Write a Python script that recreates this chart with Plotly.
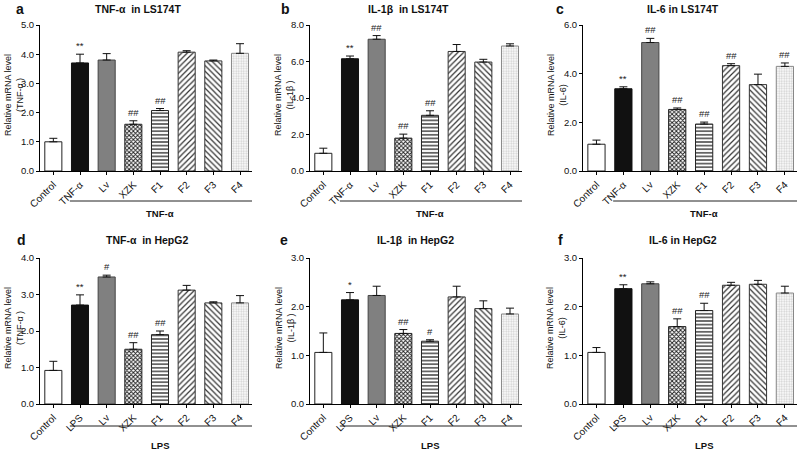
import plotly.graph_objects as go

cats_tnf = ["Control", "TNF-α", "Lv", "XZK", "F1", "F2", "F3", "F4"]
cats_lps = ["Control", "LPS", "Lv", "XZK", "F1", "F2", "F3", "F4"]

# panel values (mean) and upward error (SEM)
a_val = [1.00, 3.70, 3.80, 1.60, 2.07, 4.07, 3.77, 4.03]
a_err = [0.12, 0.30, 0.22, 0.12, 0.07, 0.05, 0.03, 0.33]
b_val = [0.97, 6.15, 7.22, 1.80, 3.05, 6.55, 5.97, 6.85]
b_err = [0.28, 0.15, 0.20, 0.22, 0.25, 0.38, 0.15, 0.12]
c_val = [1.10, 3.38, 5.28, 2.53, 1.93, 4.33, 3.55, 4.30]
c_err = [0.17, 0.08, 0.17, 0.06, 0.08, 0.08, 0.43, 0.14]
d_val = [0.92, 2.71, 3.48, 1.50, 1.90, 3.12, 2.77, 2.77]
d_err = [0.25, 0.28, 0.05, 0.18, 0.10, 0.13, 0.03, 0.20]
e_val = [1.06, 2.14, 2.23, 1.45, 1.29, 2.20, 1.96, 1.85]
e_err = [0.40, 0.15, 0.19, 0.08, 0.03, 0.22, 0.16, 0.12]
f_val = [1.06, 2.37, 2.47, 1.59, 1.92, 2.44, 2.46, 2.28]
f_err = [0.10, 0.08, 0.04, 0.16, 0.15, 0.06, 0.08, 0.14]

a_sig = ["", "**", "", "##", "##", "", "", ""]
b_sig = ["", "**", "##", "##", "##", "", "", ""]
c_sig = ["", "**", "##", "##", "##", "##", "", "##"]
d_sig = ["", "**", "#", "##", "##", "", "", ""]
e_sig = ["", "*", "", "##", "#", "", "", ""]
f_sig = ["", "**", "", "##", "##", "", "", ""]

titles = ["TNF-α  in LS174T", "IL-1β  in LS174T", "IL-6 in LS174T",
          "TNF-α  in HepG2", "IL-1β  in HepG2", "IL-6 in HepG2"]
ytitles = ["(TNF-α )", "(IL-1β )", "(IL-6)", "(TNF-α )", "(IL-1β )", "(IL-6)"]
letters = ["a", "b", "c", "d", "e", "f"]
group_labels = ["TNF-α", "TNF-α", "TNF-α", "LPS", "LPS", "LPS"]
ymax = [5, 8, 6, 4, 3, 3]
dticks = [1, 2, 2, 1, 1, 1]

panels = [
    (cats_tnf, a_val, a_err, a_sig),
    (cats_tnf, b_val, b_err, b_sig),
    (cats_tnf, c_val, c_err, c_sig),
    (cats_lps, d_val, d_err, d_sig),
    (cats_lps, e_val, e_err, e_sig),
    (cats_lps, f_val, f_err, f_sig),
]

W, H = 800, 451
FONT = "Liberation Sans, Arial, sans-serif"

# layout geometry in pixels
x_px = [(40, 252), (310, 522), (583, 797)]
y_px = [(25, 171), (258, 404)]
title_px = [(138, 9), (408, 9), (683, 9), (147, 240), (415, 240), (683, 240)]
letter_px = [(20, 9), (285, 9), (560, 9), (21, 240), (284, 240), (560, 240)]
ytitle_x = [14, 284, 557, 14, 285, 556]
gline_y = [201, 426]
glabel_y = [213, 445]

# bar styles by position
marker_colors = ["white", "#111111", "#808080", "white", "white", "white", "white", "white"]
line_colors = ["#222222", "#111111", "#444444", "#222222", "#222222", "#333333", "#333333", "#888888"]
pat_shapes = ["", "", "", "x", "-", "/", "\\", "."]
pat_fg = ["black", "black", "black", "#1a1a1a", "#222222", "#333333", "#333333", "#cfcfcf"]
pat_size = [6, 6, 6, 3, 3.6, 4, 4, 2.5]
pat_sol = [0.3, 0.3, 0.3, 0.5, 0.35, 0.3, 0.3, 0.45]

fig = go.Figure()
annotations = []
shapes = []


def px2x(p):
    return p / W


def px2y(p):
    return 1 - p / H


for i, (cats, vals, errs, sig) in enumerate(panels):
    row, col = divmod(i, 3)
    n = i + 1
    xa = "x" if n == 1 else f"x{n}"
    ya = "y" if n == 1 else f"y{n}"
    for k in range(len(cats)):
        mk = dict(color=marker_colors[k], line=dict(color=line_colors[k], width=1))
        if pat_shapes[k]:
            mk["pattern"] = dict(shape=pat_shapes[k], fgcolor=pat_fg[k], bgcolor="white",
                                 size=pat_size[k], solidity=pat_sol[k])
        fig.add_trace(go.Bar(
            x=[cats[k]], y=[vals[k]], xaxis=xa, yaxis=ya, width=0.64,
            marker=mk,
            error_y=dict(type="data", symmetric=False, array=[errs[k]],
                         arrayminus=[0], color="#111111", thickness=1, width=4),
            showlegend=False, hoverinfo="x+y",
        ))
    x0, x1 = x_px[col]
    y0, y1 = y_px[row]
    fig.layout[f"xaxis{'' if n == 1 else n}"] = dict(
        domain=[px2x(x0), px2x(x1)], anchor=ya, type="category",
        categoryorder="array", categoryarray=cats,
        range=[-0.5, 7.45], autorange=False, automargin=False,
        showline=True, linecolor="black", linewidth=1,
        ticks="outside", ticklen=3, tickcolor="black", tickangle=-45,
        showgrid=False, zeroline=False,
        tickfont=dict(family=FONT, size=10, color="#111111"),
    )
    fig.layout[f"yaxis{'' if n == 1 else n}"] = dict(
        domain=[px2y(y1), px2y(y0)], anchor=xa, automargin=False,
        range=[0, ymax[i]], autorange=False, dtick=dticks[i], tickformat=".1f",
        showline=True, linecolor="black", linewidth=1,
        ticks="outside", ticklen=3, tickcolor="black",
        showgrid=False, zeroline=False,
        tickfont=dict(family=FONT, size=9.5, color="#111111"),
    )
    # significance marks
    for c, v, e, s in zip(cats, vals, errs, sig):
        if s:
            annotations.append(dict(
                x=c, y=v + e, xref=xa, yref=ya, text=s, showarrow=False,
                yanchor="bottom", yshift=1,
                font=dict(family=FONT, size=9.5, color="#222222")))
    tx, ty = title_px[i]
    annotations.append(dict(x=px2x(tx), y=px2y(ty), xref="paper", yref="paper",
                            text=f"<b>{titles[i]}</b>", showarrow=False,
                            xanchor="center", yanchor="middle",
                            font=dict(family=FONT, size=10.5, color="#111111")))
    lx, ly = letter_px[i]
    annotations.append(dict(x=px2x(lx), y=px2y(ly), xref="paper", yref="paper",
                            text=f"<b>{letters[i]}</b>", showarrow=False,
                            xanchor="center", yanchor="middle",
                            font=dict(family=FONT, size=14, color="#111111")))
    annotations.append(dict(x=px2x(ytitle_x[i]), y=px2y((y0 + y1) / 2 - 3),
                            xref="paper", yref="paper",
                            text=f"Relative mRNA level<br>{ytitles[i]}",
                            showarrow=False, textangle=-90,
                            xanchor="center", yanchor="middle",
                            font=dict(family=FONT, size=9, color="#111111")))
    shapes.append(dict(type="line", xref=xa, yref="paper",
                       x0=0.62, x1=7.45, y0=px2y(gline_y[row]), y1=px2y(gline_y[row]),
                       line=dict(color="#222222", width=1)))
    annotations.append(dict(x=4.0, y=px2y(glabel_y[row]), xref=xa, yref="paper",
                            text=f"<b>{group_labels[i]}</b>", showarrow=False,
                            xanchor="center", yanchor="middle",
                            font=dict(family=FONT, size=9.5, color="#111111")))

fig.update_layout(
    template="none",
    width=W, height=H, margin=dict(l=0, r=0, t=0, b=0, pad=0, autoexpand=False),
    paper_bgcolor="white", plot_bgcolor="white",
    annotations=annotations, shapes=shapes, barmode="overlay",
    font=dict(family=FONT), showlegend=False,
)

fig.write_html("out.html", config={"displayModeBar": False},
               post_script="document.body.style.margin='0px';")
